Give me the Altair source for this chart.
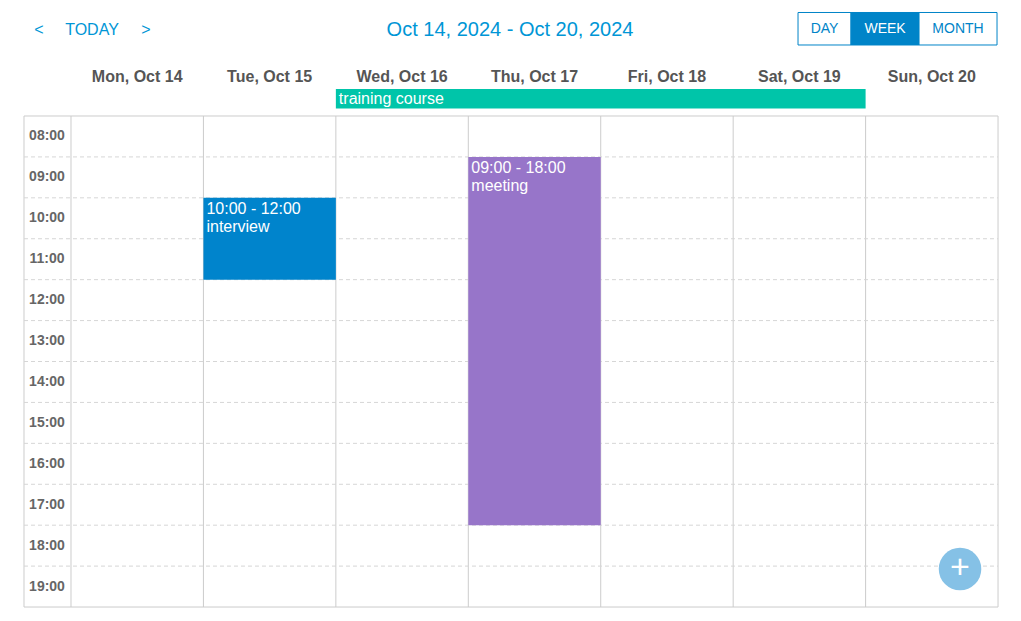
import altair as alt
import pandas as pd

days = ["Mon, Oct 14", "Tue, Oct 15", "Wed, Oct 16", "Thu, Oct 17",
        "Fri, Oct 18", "Sat, Oct 19", "Sun, Oct 20"]
hours = list(range(8, 20))
hour_labels = ["%02d:00" % h for h in hours]

event_day = [1, 3]
event_start = [10, 9]
event_end = [12, 18]
event_time = ["10:00 - 12:00", "09:00 - 18:00"]
event_name = ["interview", "meeting"]
event_color = ["#0084cc", "#9775c9"]

allday_start = [2]
allday_end = [6]
allday_name = ["training course"]

title = "Oct 14, 2024 - Oct 20, 2024"
nav_labels = ["<", "TODAY", ">"]
views = ["DAY", "WEEK", "MONTH"]

# plot area covers the page; domains place the grid like the reference
XS = alt.Scale(domain=[-0.4757, 7.113], nice=False, zero=False)
YS = alt.Scale(domain=[5.361, 20.146], nice=False, zero=False, reverse=True)
X0 = -0.355


def px(x):  # page pixel -> day units
    return (x - 71) / 132.43


def py(y):  # page pixel -> hour units
    return 8 + (y - 116) / 40.92


def X(f):
    return alt.X(f, scale=XS, axis=None)


def Y(f):
    return alt.Y(f, scale=YS, axis=None)


vlines = pd.DataFrame({"x": [X0] + list(range(8)), "a": 8, "b": 20})
hlines = pd.DataFrame({"y": list(range(9, 20)), "a": X0, "b": 7})
frame = pd.DataFrame({"y": [8, 20], "a": X0, "b": 7})
ev = pd.DataFrame({"d": event_day, "s": event_start, "e": event_end,
                   "t": event_time, "n": event_name, "c": event_color})
ev["d2"] = ev["d"] + 1
ad = pd.DataFrame({"s": allday_start, "e": allday_end, "n": allday_name,
                   "y1": py(89), "y2": py(108.5), "ym": py(99)})
dh = pd.DataFrame({"d": [i + 0.5 for i in range(7)], "n": days, "y": py(77)})
hl = pd.DataFrame({"h": [h + 0.5 for h in hours], "n": hour_labels, "x": px(47)})

grid_v = alt.Chart(vlines).mark_rule(color="#cccccc").encode(
    x=X("x:Q"), y=Y("a:Q"), y2="b:Q")
grid_h = alt.Chart(hlines).mark_rule(color="#d6d6d6", strokeDash=[4, 3]).encode(
    y=Y("y:Q"), x=X("a:Q"), x2="b:Q")
grid_f = alt.Chart(frame).mark_rule(color="#cccccc").encode(
    y=Y("y:Q"), x=X("a:Q"), x2="b:Q")

ev_rect = alt.Chart(ev).mark_rect().encode(
    x=X("d:Q"), x2="d2:Q", y=Y("s:Q"), y2="e:Q",
    color=alt.Color("c:N", scale=None))
txt = dict(align="left", baseline="top", color="white", fontSize=16, font="Arial")
ev_t1 = alt.Chart(ev).mark_text(dx=3, dy=3, **txt).encode(
    x=X("d:Q"), y=Y("s:Q"), text="t:N")
ev_t2 = alt.Chart(ev).mark_text(dx=3, dy=21, **txt).encode(
    x=X("d:Q"), y=Y("s:Q"), text="n:N")

ad_rect = alt.Chart(ad).mark_rect(color="#00c5a9").encode(
    x=X("s:Q"), x2="e:Q", y=Y("y1:Q"), y2="y2:Q")
ad_text = alt.Chart(ad).mark_text(align="left", baseline="middle", dx=3,
                                  color="white", fontSize=16, font="Arial").encode(
    x=X("s:Q"), y=Y("ym:Q"), text="n:N")

day_text = alt.Chart(dh).mark_text(fontSize=16, fontWeight="bold", color="#555555",
                                   font="Arial").encode(
    x=X("d:Q"), y=Y("y:Q"), text="n:N")
hour_text = alt.Chart(hl).mark_text(fontSize=14, fontWeight="bold", color="#666666",
                                    font="Arial").encode(
    x=X("x:Q"), y=Y("h:Q"), text="n:N")

nav = pd.DataFrame({"t": nav_labels, "x": [px(39), px(92), px(146)], "y": py(30)})
nav_text = alt.Chart(nav).mark_text(fontSize=16, color="#0096d6", font="Arial").encode(
    x=X("x:Q"), y=Y("y:Q"), text="t:N")
tt = pd.DataFrame({"t": [title], "x": px(510), "y": py(30)})
title_text = alt.Chart(tt).mark_text(fontSize=20, color="#0096d6", font="Arial").encode(
    x=X("x:Q"), y=Y("y:Q"), text="t:N")

btn = pd.DataFrame({"t": views, "a": [px(798), px(851), px(919)],
                    "b": [px(851), px(919), px(997)], "y1": py(12.5), "y2": py(45)})
btn["m"] = (btn["a"] + btn["b"]) / 2
btn["ym"] = py(29)
btn_rect = alt.Chart(btn).mark_rect(stroke="#0084c8", strokeWidth=1, fill="white").encode(
    x=X("a:Q"), x2="b:Q", y=Y("y1:Q"), y2="y2:Q")
btn_on = alt.Chart(btn[btn["t"] == "WEEK"]).mark_rect(fill="#0084c8").encode(
    x=X("a:Q"), x2="b:Q", y=Y("y1:Q"), y2="y2:Q")
btn_text = alt.Chart(btn[btn["t"] != "WEEK"]).mark_text(
    fontSize=14, font="Arial", color="#0084c8").encode(
    x=X("m:Q"), y=Y("ym:Q"), text="t:N")
btn_text_on = alt.Chart(btn[btn["t"] == "WEEK"]).mark_text(
    fontSize=14, font="Arial", color="white").encode(
    x=X("m:Q"), y=Y("ym:Q"), text="t:N")

fb = pd.DataFrame({"t": ["+"], "x": px(960), "y": py(569)})
fab = alt.Chart(fb).mark_circle(size=1810, color="#85c1e6", opacity=1).encode(
    x=X("x:Q"), y=Y("y:Q"))
fab_t = alt.Chart(fb).mark_text(fontSize=34, color="white", font="Arial",
                                baseline="middle", dy=-1).encode(
    x=X("x:Q"), y=Y("y:Q"), text="t:N")

chart = alt.layer(
    grid_v, grid_h, grid_f, ev_rect, ev_t1, ev_t2, ad_rect, ad_text,
    day_text, hour_text, nav_text, title_text, btn_rect, btn_on,
    btn_text, btn_text_on, fab, fab_t
).properties(
    width=1005, height=605, padding=0,
    autosize=alt.AutoSizeParams(type="none")
).configure_view(stroke=None)

chart.save("out.html", embed_options={"renderer": "svg", "actions": False})
